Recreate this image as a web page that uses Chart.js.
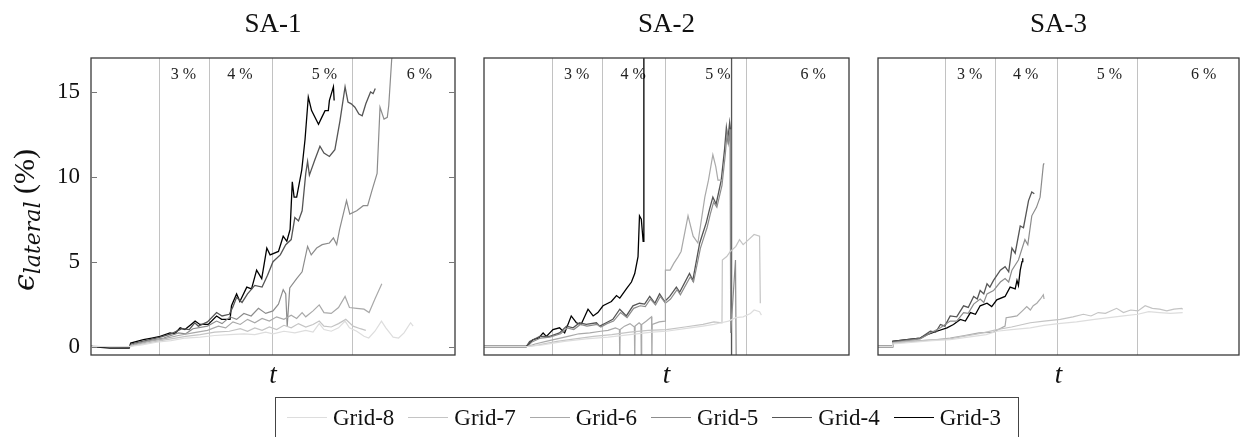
<!DOCTYPE html>
<html>
<head>
<meta charset="utf-8">
<script src="https://cdn.jsdelivr.net/npm/chart.js@4.4.1/dist/chart.umd.min.js"></script>
<style>
  html, body { margin: 0; padding: 0; background: #fff; }
  body { width: 1243px; height: 437px; position: relative; overflow: hidden; font-family: "Liberation Serif", serif; }
  canvas { position: absolute; left: 0; top: 0; }
  #legend { position: absolute; left: 275px; top: 397px; width: 744px; height: 60px; box-sizing: border-box;
            border: 1.3px solid #444; display: flex; align-items: flex-start; padding: 6px 0 0 11px; }
  .item { display: flex; align-items: center; margin-right: 14px; font-size: 23px; color: #111; line-height: 27px; }
  .swatch { width: 40px; height: 0; border-top: 1.3px solid; margin-right: 6px; }
</style>
</head>
<body>
<canvas id="p0" width="1243" height="437"></canvas>
<canvas id="p1" width="1243" height="437"></canvas>
<canvas id="p2" width="1243" height="437"></canvas>
<div id="legend"></div>
<script>
// ---- series and axis data ----
const panelTitles = ['SA-1', 'SA-2', 'SA-3'];
const seriesNames = ['Grid-8', 'Grid-7', 'Grid-6', 'Grid-5', 'Grid-4', 'Grid-3'];
const yTickValues = [0, 5, 10, 15];
const driftBounds = [18.6, 32.3, 49.7, 71.8];
const driftLabels = ['3 %', '4 %', '5 %', '6 %'];
const driftLabelAt = [25.4, 40.9, 64.1, 90.2];
const driftLabelLevel = 16;

// SA-1: [t, lateral strain %]
const sa1Grid8 = [[0,0],[10.5,0],[14,0.1],[18,0.25],[22,0.35],[26,0.5],[30,0.55],[34,0.65],[38,0.7],[42,0.75],[45,0.7],[48,0.85],[50,0.75],[53,0.9],[56,0.8],[59,0.95],[61,0.85],[62.7,1.35],[64,1.0],[66,0.9],[68,1.1],[69.8,1.5],[71,1.1],[73,0.9],[75,0.6],[76.3,0.5],[78,0.9],[79.8,1.5],[81,1.1],[83,0.55],[84.5,0.5],[86,0.8],[87.8,1.4],[88.5,1.2]];
const sa1Grid7 = [[0,0],[10.5,0],[14,0.15],[18,0.3],[22,0.45],[26,0.6],[30,0.7],[34,0.85],[38,0.9],[41,1.05],[43,0.9],[45,1.1],[47,0.95],[49,1.15],[51,1.0],[53,1.25],[55,1.1],[57,1.35],[59,1.15],[61,1.3],[62.7,1.5],[64,1.2],[66,1.15],[68,1.35],[70,1.6],[72,1.2],[74,1.05],[75.5,0.95]];
const sa1Grid6 = [[0,0],[10.5,0],[12,0.1],[16,0.3],[20,0.45],[24,0.65],[28,0.8],[32,0.95],[35,1.2],[37,1.1],[39,1.45],[41,1.3],[43,1.6],[45,1.4],[47,1.65],[49,1.5],[51,1.75],[53,1.6],[55,1.85],[56.5,1.65],[58,2.0],[59,1.75],[61,2.1],[62.7,2.45],[64,2.0],[66,1.95],[68,2.3],[69.8,2.95],[71,2.3],[73,2.25],[75,2.2],[76.4,2.0],[78,2.8],[79.9,3.7]];
const sa1Grid5 = [[0,0],[10.5,0],[12,0.15],[16,0.35],[20,0.5],[24,0.8],[26,0.75],[28,1.05],[32,1.2],[34.5,1.5],[36,1.35],[38.2,1.75],[40,1.6],[42,1.95],[44,1.8],[46,2.25],[48,1.95],[50,2.1],[51.5,2.5],[52.8,3.35],[53.5,3.1],[53.9,1.2],[54.6,3.45],[56.5,4.0],[58,4.4],[59.5,5.9],[60.5,5.4],[62,5.8],[63.5,6.0],[65.5,6.1],[66.6,6.4],[67.5,6.0],[68.3,6.9],[70.2,8.6],[71.1,7.8],[73,8.0],[74.8,8.3],[76,8.3],[77.2,9.2],[78.6,10.2],[79.4,14.1],[80.5,13.4],[81.4,13.5],[81.8,14.2],[82.6,16.9],[83.1,17.6]];
const sa1Grid4 = [[0,0],[10.5,-0.05],[11,0.15],[15,0.35],[19,0.55],[22,0.75],[25,1.05],[27,1.0],[28.5,1.4],[29.5,1.2],[32,1.45],[34.5,2.0],[36,1.8],[38,1.9],[39,2.35],[40,2.9],[41.5,2.6],[43,3.1],[45,3.6],[47,3.5],[48.5,4.2],[50,5.0],[52,5.4],[53.5,6.0],[55,6.3],[56,7.6],[57,7.4],[58,8.0],[59,10.2],[59.5,10.9],[60,10.1],[61.5,11.0],[62.9,11.8],[64,11.4],[65.5,11.2],[67,11.6],[68.4,13.3],[69.8,15.3],[70.6,14.4],[71.5,14.3],[72.5,14.1],[73.6,13.7],[74.5,13.6],[75.5,14.3],[76.8,15.0],[77.5,14.9],[78.1,15.2]];
const sa1Grid3 = [[0,0],[5.2,-0.1],[10.5,-0.1],[10.9,0.2],[14.4,0.4],[16.7,0.5],[19,0.6],[21.7,0.8],[23,0.75],[24.5,1.1],[25.8,1.0],[27.5,1.3],[28.6,1.5],[29.9,1.3],[32.2,1.3],[34.5,1.8],[35.9,1.6],[38.2,1.6],[38.6,2.4],[40,3.1],[40.9,2.65],[42.8,3.5],[44.1,3.4],[45.5,4.5],[46.9,4.0],[48.3,5.8],[49.2,5.4],[51.5,5.6],[52.8,6.5],[53.8,6.2],[54.7,6.9],[55.3,9.7],[55.8,8.8],[56.5,8.8],[57.9,10.4],[58.8,12.2],[59.7,14.7],[60.6,13.9],[62.5,13.1],[63.4,13.5],[64.3,13.9],[65.2,13.9],[65.5,14.5],[66.6,15.3],[66.8,14.5]];

// SA-2
const sa2Grid8 = [[0,0],[12,0],[16,0.1],[22,0.3],[28,0.45],[34,0.55],[40,0.7],[46,0.85],[50,0.9],[55,1.05],[60,1.2],[63,1.3],[65,1.4],[67,1.5],[69,1.7],[71,1.75],[73,1.95],[74,2.15],[75.5,2.05],[76,1.85]];
const sa2Grid7 = [[0,0],[12,0],[15,0.1],[20,0.3],[25,0.45],[30,0.6],[35,0.7],[40,0.85],[45,0.95],[50,1.0],[55,1.15],[60,1.3],[63,1.45],[65.2,1.4],[65.3,5.1],[66.5,5.3],[67.5,5.6],[69,5.9],[70,6.3],[71,6.0],[72.5,6.3],[74,6.6],[75.5,6.5],[75.7,2.55]];
const sa2Grid6 = [[0,0],[12,0],[14,0.15],[17,0.3],[20,0.45],[23,0.6],[26,0.75],[29,0.8],[32,0.9],[34,0.95],[36,1.1],[37.1,1.0],[37.2,-1],[37.3,1.0],[38.5,1.2],[40,1.35],[41.2,1.15],[41.3,-1],[41.4,1.2],[42.5,1.4],[43,1.3],[43.1,-1],[43.2,1.3],[44.5,1.5],[45.9,1.75],[46,-1],[46.1,1.3],[48,1.45],[49.6,1.5],[49.7,4.5],[51,4.5],[52,4.9],[53.2,5.3],[54,5.6],[55.9,7.7],[57.3,6.5],[58.6,6.1],[60.5,8.8],[61.5,9.8],[62.7,11.3],[63.5,10.6],[64.1,9.8],[65.3,9.8]];
const sa2Grid5 = [[0,0],[12,0],[13,0.25],[15.5,0.5],[18,0.55],[21,0.75],[22.8,1.1],[24.6,1.0],[26.4,1.3],[28.2,1.2],[31,1.3],[32,1.15],[33.7,1.35],[35.5,1.5],[37.4,2.0],[39.2,1.7],[41,2.25],[42.8,2.4],[44.2,2.35],[45.6,2.8],[47,2.45],[48.3,2.95],[49.7,2.55],[51.1,2.8],[52.9,3.35],[53.8,3.05],[56.5,4.1],[57.4,3.8],[59.3,5.8],[60.2,6.4],[61.1,7.0],[62,7.8],[62.9,8.5],[63.8,8.2],[65.2,9.5],[66.1,11.3],[66.6,12.6],[67,12.0],[67.4,12.8],[67.6,0.8],[68.9,5.1],[69.1,-1]];
const sa2Grid4 = [[0,0],[11.6,0],[12.5,0.3],[15.3,0.6],[18,0.6],[20.7,0.8],[22.6,1.2],[24.4,1.1],[26.2,1.4],[28,1.3],[30.8,1.4],[31.7,1.2],[33.5,1.4],[35.3,1.6],[37.2,2.2],[39,1.8],[40.8,2.4],[42.6,2.55],[44,2.5],[45.4,2.95],[46.8,2.55],[48.1,3.1],[49.5,2.65],[50.9,2.95],[52.7,3.5],[53.6,3.2],[56.3,4.3],[57.2,3.9],[59.1,6.1],[60,6.7],[60.9,7.3],[61.8,8.1],[62.7,8.8],[63.6,8.4],[65,9.8],[65.9,11.6],[66.4,12.9],[66.8,12.2],[67.3,13.2],[67.7,12.4],[67.8,18],[67.85,-1]];
const sa2Grid3 = [[0,0],[11.6,0],[13.4,0.4],[15,0.5],[16.2,0.8],[17.1,0.6],[18.9,1.0],[20.7,1.1],[22.1,0.8],[23.9,1.8],[25.3,1.4],[26.6,1.3],[28.5,2.2],[29.9,1.8],[31.2,2.0],[32.6,2.4],[34.9,2.65],[36.3,3.0],[37.2,2.85],[39,3.4],[40.4,3.8],[41.3,4.3],[42.2,5.3],[42.6,7.7],[43.1,7.5],[43.6,6.2],[43.8,18]];

// SA-3
const sa3Grid8 = [[0,0],[3.9,0],[4.1,0.15],[10,0.25],[15,0.35],[20,0.4],[25,0.55],[30,0.7],[32.9,0.9],[37,1.0],[42.2,1.1],[46,1.25],[50,1.35],[55,1.45],[60,1.6],[64,1.7],[68,1.8],[72,1.9],[75,2.05],[78,2.0],[81,1.95],[84.4,2.0]];
const sa3Grid7 = [[0,0],[3.9,0],[4.1,0.2],[10,0.3],[14.5,0.4],[20,0.45],[23.7,0.6],[28,0.75],[32.9,1.0],[37,1.15],[42.2,1.4],[46,1.5],[50.5,1.6],[54,1.75],[56.9,1.9],[59,1.8],[61,2.0],[63,1.95],[66.1,2.25],[68,2.0],[70,2.15],[72,2.1],[74,2.4],[76,2.25],[78,2.2],[80,2.1],[82,2.2],[84.1,2.25],[84.4,2.2]];
const sa3Grid6 = [[0,0],[3.9,0],[4.1,0.2],[8,0.3],[12,0.35],[16,0.4],[20,0.5],[24,0.65],[28,0.8],[32,0.85],[35.2,1.2],[35.5,1.7],[37,1.75],[38.5,1.8],[40,2.1],[41.2,2.35],[42.2,2.15],[43,2.4],[44,2.55],[45,2.8],[45.8,3.05],[46,2.8]];
const sa3Grid5 = [[0,0],[3.9,0],[4.1,0.25],[8,0.35],[11.7,0.45],[14.5,0.8],[17.3,1.1],[20,1.5],[21.8,1.5],[23.7,2.0],[25,1.95],[26.5,2.5],[28.3,2.8],[29.3,2.6],[30.2,3.1],[32,3.3],[33.9,3.8],[35.2,4.0],[36.2,3.8],[37.1,4.5],[38.9,5.1],[40.7,6.3],[41.5,6.0],[42.6,7.7],[43.9,8.2],[44.9,8.8],[45.8,10.7],[46,10.8]];
const sa3Grid4 = [[0,0],[3.9,0],[4.1,0.3],[8,0.4],[11.7,0.5],[14.5,0.9],[16,0.85],[17.3,1.3],[18.5,1.2],[20,1.8],[21.8,1.75],[23.7,2.4],[25,2.3],[26.5,2.95],[27.5,2.8],[28.3,3.3],[29.3,3.1],[30.2,3.7],[31,3.5],[32,3.9],[33.9,4.5],[35.2,4.7],[36.2,4.4],[37.1,5.8],[38,5.5],[39.4,7.1],[40.3,7.0],[41.7,8.6],[42.6,9.1],[43.3,9.0]];
const sa3Grid3 = [[0,0],[3.9,0],[4.1,0.3],[8,0.4],[11.7,0.5],[13.6,0.7],[16.3,0.9],[19.1,1.1],[20.9,1.3],[22.8,1.6],[24.2,1.5],[25.6,2.0],[27,1.9],[28.3,2.4],[30.2,2.55],[31.5,2.35],[32.9,2.75],[35.2,2.95],[36.6,3.5],[38,3.4],[38.5,3.9],[38.9,3.6],[39.4,4.5],[39.9,5.0],[40.1,5.2]];

const panelSeries = [
  [sa1Grid8, sa1Grid7, sa1Grid6, sa1Grid5, sa1Grid4, sa1Grid3],
  [sa2Grid8, sa2Grid7, sa2Grid6, sa2Grid5, sa2Grid4, sa2Grid3],
  [sa3Grid8, sa3Grid7, sa3Grid6, sa3Grid5, sa3Grid4, sa3Grid3]
];

// ---- layout and style ----
const W = 1243, H = 437;
const panelLeft = [91, 484, 878];
const panelRight = [455, 849, 1239];
const plotTop = 58, plotBottom = 355;
const yAxisWidth = 40;
const seriesColors = ['#dddddd', '#c4c4c4', '#a9a9a9', '#8c8c8c', '#555555', '#000000'];
const serif = '"Liberation Serif", "Times New Roman", serif';

// boundaries, labels, frame and titles around each panel
const panelDecor = {
  id: 'panelDecor',
  beforeDatasetsDraw(chart) {
    const { ctx, chartArea: a, scales: { x, y } } = chart;
    ctx.save();
    ctx.strokeStyle = '#c2c2c2';
    ctx.lineWidth = 1;
    driftBounds.forEach(b => {
      const px = Math.round(x.getPixelForValue(b)) + 0.5;
      ctx.beginPath(); ctx.moveTo(px, a.top); ctx.lineTo(px, a.bottom); ctx.stroke();
    });
    ctx.fillStyle = '#222';
    ctx.font = '16px ' + serif;
    ctx.textAlign = 'center';
    ctx.textBaseline = 'middle';
    driftLabels.forEach((t, i) => ctx.fillText(t, x.getPixelForValue(driftLabelAt[i]), y.getPixelForValue(driftLabelLevel)));
    ctx.restore();
  },
  afterDraw(chart, args, opts) {
    const { ctx, chartArea: a, scales: { y } } = chart;
    ctx.save();
    // frame
    ctx.strokeStyle = '#3a3a3a';
    ctx.lineWidth = 1.3;
    ctx.strokeRect(a.left, a.top, a.right - a.left, a.bottom - a.top);
    // inward tick marks on the first panel
    if (opts.index === 0) {
      ctx.strokeStyle = '#777';
      ctx.lineWidth = 1;
      yTickValues.forEach(v => {
        const py = Math.round(y.getPixelForValue(v)) + 0.5;
        ctx.beginPath();
        ctx.moveTo(a.left, py); ctx.lineTo(a.left + 6, py);
        ctx.moveTo(a.right - 6, py); ctx.lineTo(a.right, py);
        ctx.stroke();
      });
    }
    const cx = (a.left + a.right) / 2;
    ctx.fillStyle = '#111';
    ctx.textAlign = 'center';
    ctx.textBaseline = 'alphabetic';
    ctx.font = '27px ' + serif;
    ctx.fillText(panelTitles[opts.index], cx, 32);
    ctx.font = 'italic 27px ' + serif;
    ctx.fillText('t', cx, 383);
    // y axis title with subscript
    if (opts.index === 0) {
      ctx.translate(34, 220);
      ctx.rotate(-Math.PI / 2);
      ctx.textAlign = 'left';
      const parts = [
        { s: '\u03F5', f: 'italic 30px "DejaVu Serif", serif', dy: 0 },
        { s: 'lateral', f: 'italic 22px "DejaVu Serif", serif', dy: 6 },
        { s: ' (%)', f: '30px ' + serif, dy: 0 }
      ];
      let total = 0;
      parts.forEach(p => { ctx.font = p.f; p.w = ctx.measureText(p.s).width; total += p.w; });
      let xx = -total / 2;
      parts.forEach(p => { ctx.font = p.f; ctx.fillText(p.s, xx, p.dy); xx += p.w; });
    }
    ctx.restore();
  }
};

function makePanel(index) {
  const datasets = panelSeries[index].map((pts, i) => ({
    label: seriesNames[i],
    data: pts.map(([t, v]) => ({ x: t, y: v })),
    borderColor: seriesColors[i],
    borderWidth: i >= 4 ? 1.3 : 1.2,
    pointRadius: 0,
    fill: false,
    tension: 0
  }));
  const first = index === 0;
  new Chart(document.getElementById('p' + index), {
    type: 'line',
    data: { datasets },
    plugins: [panelDecor],
    options: {
      responsive: false,
      animation: false,
      devicePixelRatio: 1,
      layout: { padding: {
        left: first ? panelLeft[0] - yAxisWidth : panelLeft[index],
        right: W - panelRight[index],
        top: plotTop,
        bottom: H - plotBottom
      } },
      plugins: {
        legend: { display: false },
        tooltip: { enabled: false },
        panelDecor: { index }
      },
      scales: {
        x: { type: 'linear', min: 0, max: 100, display: false },
        y: {
          type: 'linear', min: -0.5, max: 17, display: first,
          afterFit(s) { s.width = first ? yAxisWidth : 0; },
          afterBuildTicks(s) { s.ticks = yTickValues.map(v => ({ value: v })); },
          grid: { display: false, drawTicks: false },
          border: { display: false },
          ticks: { padding: 11, color: '#111', font: { family: serif, size: 23 } }
        }
      }
    }
  });
}

[0, 1, 2].forEach(makePanel);

// legend row built from the series list
const legend = document.getElementById('legend');
seriesNames.forEach((name, i) => {
  const item = document.createElement('span');
  item.className = 'item';
  const sw = document.createElement('span');
  sw.className = 'swatch';
  sw.style.borderTopColor = seriesColors[i];
  item.appendChild(sw);
  item.appendChild(document.createTextNode(name));
  legend.appendChild(item);
});
</script>
</body>
</html>
